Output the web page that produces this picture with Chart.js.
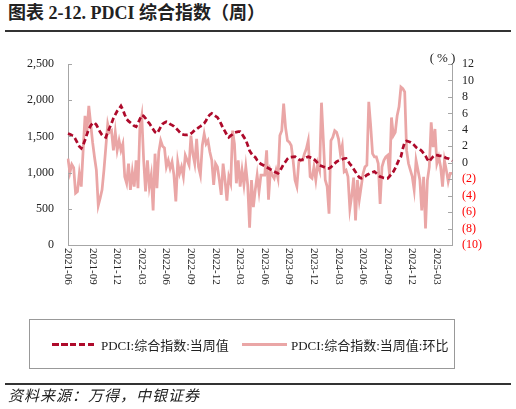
<!DOCTYPE html>
<html>
<head>
<meta charset="utf-8">
<script src="https://cdn.jsdelivr.net/npm/chart.js@4.4.1/dist/chart.umd.min.js"></script>
<style>
    body { margin: 0; background: #fff; }
    #wrap { position: relative; width: 516px; height: 409px; overflow: hidden; font-family: "Liberation Serif", "Noto Sans CJK SC", serif; color: #222; }
    #chart { position: absolute; left: 0; top: 0; }
    .title { position: absolute; left: 8px; top: 1px; font-size: 18px; font-weight: bold; line-height: 24px; white-space: nowrap; }
    .rule { position: absolute; left: 5px; width: 506px; height: 1.5px; background: #333; }
    .legend { position: absolute; left: 29px; top: 319px; width: 424px; height: 48px; border: 1px solid #999; }
    .item { position: absolute; top: 0; height: 48px; display: flex; align-items: center; font-size: 13px; white-space: nowrap; }
    .swatch { width: 45px; height: 3px; margin-right: 4px; }
    .source { position: absolute; left: 8px; top: 386px; font-size: 15px; font-style: italic; letter-spacing: 1px; line-height: 18px; white-space: nowrap; font-family: "Noto Sans CJK SC", sans-serif; }
</style>
</head>
<body>
<div id="wrap">
    <div class="title">图表 2-12. PDCI 综合指数（周）</div>
    <div class="rule" style="top:30px"></div>
    <canvas id="chart" width="516" height="409"></canvas>
    <div class="legend">
        <div class="item" style="left:22px">
            <span class="swatch" style="background:repeating-linear-gradient(to right,#AE0A2B 0 6.5px,transparent 6.5px 9px)"></span>PDCI:综合指数:当周值
        </div>
        <div class="item" style="left:212px">
            <span class="swatch" style="background:#EAA6A6"></span>PDCI:综合指数:当周值:环比
        </div>
    </div>
    <div class="rule" style="top:383px"></div>
    <div class="source">资料来源：万得，中银证券</div>
</div>
<script>
const DARK = '#AE0A2B';
const PINK = '#EAA6A6';
const AXIS = '#A6A6A6';
const SERIF = '"Liberation Serif", serif';

// quarter tick labels, one every 13 weeks
const quarterLabels = ['2021-06', '2021-09', '2021-12', '2022-03', '2022-06', '2022-09', '2022-12', '2023-03',
    '2023-06', '2023-09', '2023-12', '2024-03', '2024-06', '2024-09', '2024-12', '2025-03'];

// PDCI weekly value (left axis)
const pdciValue = [
    1540, 1530, 1515, 1505, 1460, 1410, 1360, 1335, 1380, 1450,
    1530, 1600, 1650, 1680, 1690, 1660, 1610, 1560, 1520, 1500,
    1487, 1560, 1620, 1680, 1750, 1800, 1850, 1880, 1920, 1870,
    1800, 1740, 1710, 1690, 1670, 1645, 1634, 1680, 1740, 1795,
    1780, 1750, 1710, 1680, 1640, 1600, 1560, 1542, 1580, 1630,
    1671, 1689, 1703, 1690, 1670, 1655, 1640, 1615, 1590, 1560,
    1533, 1525, 1520, 1520, 1524, 1540, 1560, 1588, 1600, 1620,
    1640, 1657, 1680, 1720, 1770, 1800, 1818, 1800, 1780, 1763,
    1720, 1670, 1611, 1570, 1520, 1487, 1510, 1530, 1551, 1560,
    1565, 1565, 1530, 1490, 1450, 1380, 1303, 1260, 1230, 1211,
    1170, 1140, 1119, 1105, 1091, 1075, 1060, 1045, 1030, 1015,
    1000, 990, 1020, 1070, 1120, 1150, 1190, 1211, 1215, 1218,
    1220, 1200, 1180, 1174, 1180, 1195, 1210, 1220, 1210, 1200,
    1185, 1160, 1130, 1105, 1090, 1080, 1070, 1060, 1059, 1075,
    1100, 1125, 1151, 1165, 1175, 1185, 1195, 1197, 1160, 1120,
    1090, 1050, 1010, 967, 935, 921, 930, 945, 967, 980,
    995, 1005, 1013, 990, 965, 944, 935, 925, 921, 921,
    950, 980, 1013, 1060, 1120, 1180, 1220, 1330, 1420, 1436,
    1430, 1420, 1404, 1380, 1350, 1330, 1321, 1300, 1266, 1230,
    1180, 1151, 1190, 1220, 1243, 1240, 1235, 1232, 1229, 1215,
    1200, 1195, 1180, 1160
];

// week-on-week change, % (right axis)
const pdciWoW = [
    0.5, -1.2, -0.2, -0.6, -3.7, -3.5, -1.3, -2.9, 1.5, 5.7,
    3.7, 6.9, 4.7, 2.5, 0.7, -0.9, -5.2, -4.3, -3.3, -0.9,
    1.9, 4.7, 3.7, 3.9, 1.5, 3.7, 1.5, 2.7, 1.5, 2.3,
    -1.7, -2.5, -0.1, -3.3, -1.1, -2.9, 0.3, -3.1, 4.3, 5.7,
    0.3, -3.5, 0.3, -2.9, -1.5, -5.8, 1.1, -3.1, 1.3, 2.7,
    2.0, 1.8, -0.5, 0.3, -0.7, 0.1, -1.5, -4.7, 0.1, -1.3,
    -0.5, -1.7, 0.9, 0.3, -0.3, 3.3, 1.1, -0.1, 2.9, -0.5,
    -1.5, 2.1, 3.5, 2.3, 2.7, 1.3, 0.3, -2.7, -0.1, -0.5,
    -2.1, -3.9, -0.1, -2.1, -4.6, -1.7, -2.5, 3.9, 2.3, -2.5,
    0.3, -2.9, -0.9, -2.7, -0.5, -2.7, -7.9, -2.1, -5.4, -3.3,
    -1.5, -3.5, -1.5, -1.5, -1.5, 1.5, -4.5, -0.9, -1.5, -1.9,
    -0.9, -1.9, 3.3, 3.9, 7.2, 4.3, 2.7, 2.5, 2.1, 0.3,
    -2.1, -2.9, 0.1, 0.3, 0.3, 1.1, 1.7, 2.7, -1.7, -1.9,
    -0.5, -2.1, -0.1, -0.9, 7.3, 2.7, -2.1, -2.9, -6.2, 2.7,
    3.1, 3.9, 3.7, 2.9, 1.1, 2.1, -1.1, -0.9, -1.7, -5.6,
    -4.0, -1.8, -7.0, -2.1, -4.5, -2.9, -1.3, -0.5, -0.3, 7.4,
    4.5, 1.1, 0.7, 0.7, -0.1, -5.0, -0.5, 0.3, 0.7, 0.9,
    -1.5, 5.5, 3.3, 3.7, 5.7, 6.8, 9.2, 9.0, 8.6, 1.5,
    -0.1, -0.9, -1.7, -3.3, 0.3, -0.9, -2.1, -5.8, -1.7, -8.0,
    -2.1, -0.5, 4.9, 1.9, 4.1, -0.1, 0.7, -0.5, -2.9, 0.3,
    -0.9, -2.3, -1.3, -1.3
];

// weekly categories
const weeks = [];
const start = new Date(Date.UTC(2021, 5, 4));
for (let i = 0; i < pdciValue.length; i++) {
    const d = new Date(start.getTime() + i * 7 * 86400000);
    weeks.push(d.toISOString().slice(0, 10));
}

// inward tick marks, rotated x labels and the (%) unit
const axisExtras = {
    id: 'axisExtras',
    afterDraw(chart) {
        const { ctx, chartArea, scales } = chart;
        ctx.save();
        ctx.strokeStyle = AXIS;
        ctx.lineWidth = 1;
        ctx.beginPath();
        scales.y.ticks.forEach((t, i) => {
            const y = Math.round(scales.y.getPixelForTick(i)) + 0.5;
            ctx.moveTo(chartArea.left, y);
            ctx.lineTo(chartArea.left + 4, y);
        });
        scales.y1.ticks.forEach((t, i) => {
            const y = Math.round(scales.y1.getPixelForTick(i)) + 0.5;
            ctx.moveTo(chartArea.right, y);
            ctx.lineTo(chartArea.right - 4, y);
        });
        ctx.stroke();

        ctx.fillStyle = '#222';
        ctx.font = '11px ' + SERIF;
        ctx.textAlign = 'left';
        ctx.textBaseline = 'middle';
        quarterLabels.forEach((lab, k) => {
            const x = scales.x.getPixelForValue(k * 13);
            ctx.save();
            ctx.translate(x, chartArea.bottom + 3);
            ctx.rotate(Math.PI / 2);
            ctx.fillText(lab, 0, 0);
            ctx.restore();
        });

        ctx.font = '13px ' + SERIF;
        ctx.textAlign = 'center';
        ctx.textBaseline = 'alphabetic';
        ctx.letterSpacing = '3px';
        ctx.fillText('(%)', chartArea.right - 8, chartArea.top - 2);
        ctx.restore();
    }
};

new Chart(document.getElementById('chart'), {
    type: 'line',
    data: {
        labels: weeks,
        datasets: [{
            label: 'PDCI:综合指数:当周值',
            data: pdciValue,
            yAxisID: 'y',
            borderColor: DARK,
            borderWidth: 2.75,
            borderDash: [5.5, 3],
            pointRadius: 0,
            tension: 0,
            fill: false
        }, {
            label: 'PDCI:综合指数:当周值:环比',
            data: pdciWoW,
            yAxisID: 'y1',
            borderColor: PINK,
            borderWidth: 2.75,
            pointRadius: 0,
            tension: 0,
            fill: false
        }]
    },
    options: {
        responsive: false,
        animation: false,
        layout: { padding: { top: 64, bottom: 164, left: 0, right: 0 } },
        plugins: {
            legend: { display: false },
            tooltip: { enabled: false }
        },
        scales: {
            x: {
                type: 'category',
                grid: { display: false, drawTicks: false },
                border: { display: true, color: AXIS },
                ticks: { display: false },
                afterFit(s) { s.height = 0; }
            },
            y: {
                position: 'left',
                min: 0,
                max: 2500,
                grid: { display: false, drawTicks: false },
                border: { display: true, color: AXIS },
                ticks: {
                    stepSize: 500,
                    autoSkip: false,
                    padding: 14,
                    color: '#222',
                    font: { family: SERIF, size: 12 },
                    callback: v => v.toLocaleString('en-US')
                },
                afterFit(s) { s.width = 68; }
            },
            y1: {
                position: 'right',
                min: -10,
                max: 12,
                grid: { display: false, drawTicks: false },
                border: { display: true, color: AXIS },
                ticks: {
                    stepSize: 2,
                    autoSkip: false,
                    padding: 10,
                    color: c => c.tick.value < 0 ? '#FF0000' : '#222',
                    font: { family: SERIF, size: 12 },
                    callback: v => v < 0 ? '(' + (-v) + ')' : String(v)
                },
                afterFit(s) { s.width = 64; }
            }
        }
    },
    plugins: [axisExtras]
});
</script>
</body>
</html>
